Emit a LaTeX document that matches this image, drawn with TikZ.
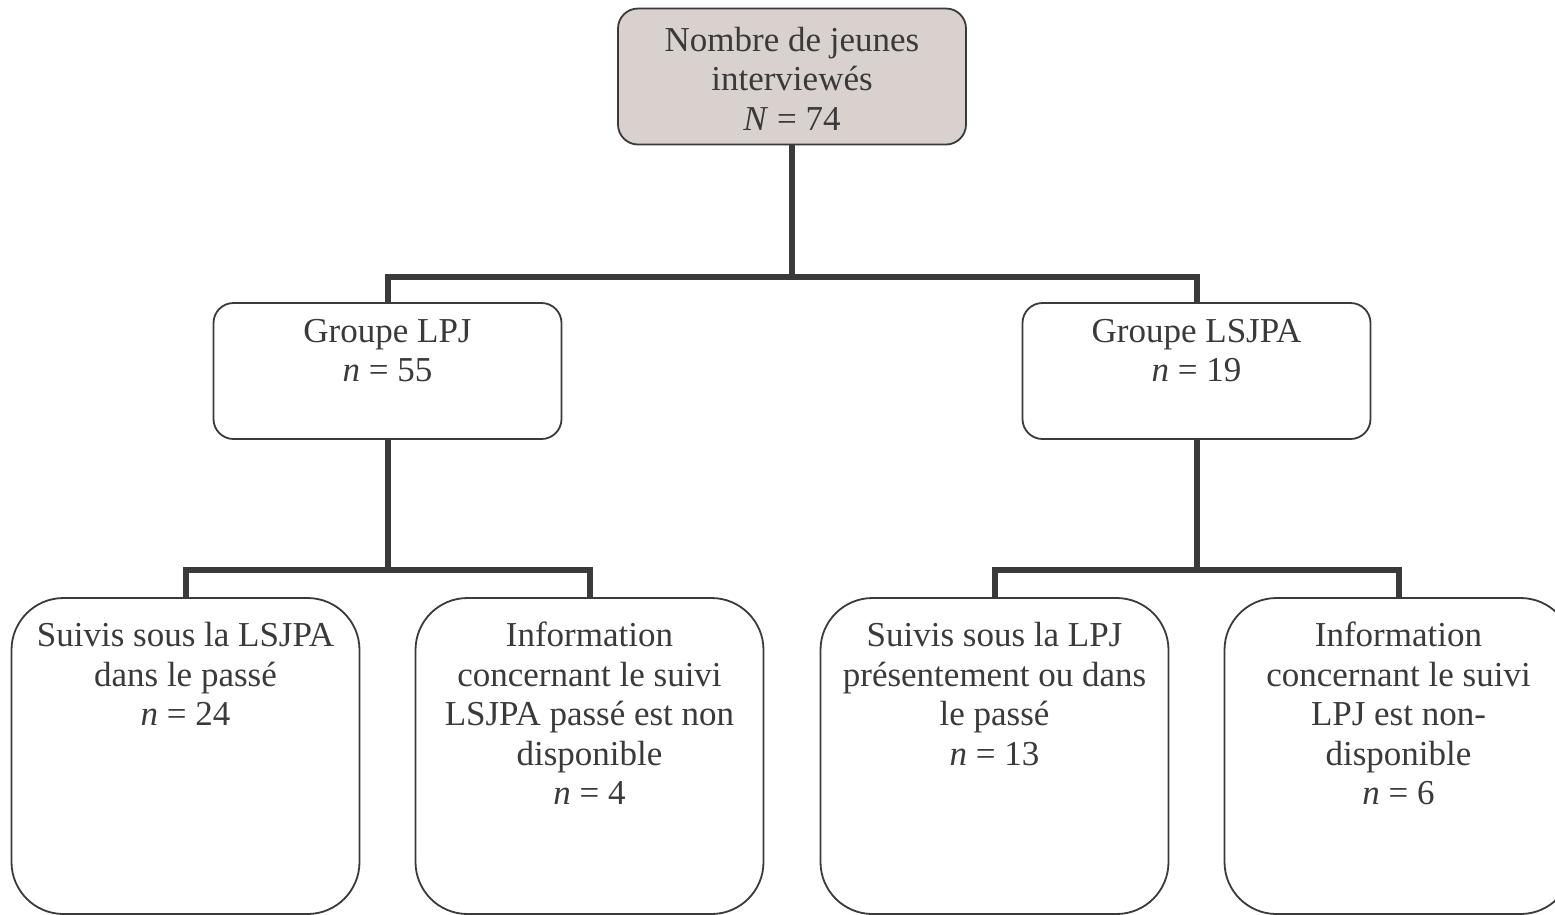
\documentclass[tikz,border=0pt]{standalone}
\usepackage{fontspec}
\setmainfont{Liberation Serif}
\definecolor{ink}{HTML}{3A3A3A}
\definecolor{topfill}{HTML}{D8D1CE}
\begin{document}
\begin{tikzpicture}[x=1pt,y=-1pt,
  box/.style={draw=ink, line width=1.8pt, fill=white, inner sep=0pt, minimum width=348pt},
  smallbox/.style={box, rounded corners=20pt, minimum height=136pt},
  bigbox/.style={box, rounded corners=52pt, minimum height=316pt},
  txt/.style={anchor=north, align=center, inner sep=0pt, text=ink, font=\fontsize{35}{39.5}\selectfont},
  conn/.style={draw=ink, line width=6pt}]
\useasboundingbox (0,0) rectangle (1555,914);
\clip (0,0) rectangle (1555,914);
% boxes
\node[smallbox, fill=topfill] (top) at (792,76.5) {};
\node[smallbox] (lpj) at (387.5,371) {};
\node[smallbox] (lsjpa) at (1196.5,371) {};
\node[bigbox] (b1) at (185.5,756) {};
\node[bigbox] (b2) at (589.5,756) {};
\node[bigbox] (b3) at (994.5,756) {};
\node[bigbox] (b4) at (1398.5,756) {};
% texts
\node[txt] (ttop) at ([yshift=-19pt]top.north) {Nombre de jeunes\\interviewés\\\textit{N} = 74};
\node[txt] (tlpj) at ([yshift=-17pt]lpj.north) {Groupe LPJ\\\textit{n} = 55};
\node[txt] (tlsjpa) at ([yshift=-17pt]lsjpa.north) {Groupe LSJPA\\\textit{n} = 19};
\node[txt] (tb1) at ([yshift=-25pt]b1.north) {Suivis sous la LSJPA\\dans le passé\\\textit{n} = 24};
\node[txt] (tb2) at ([yshift=-25pt]b2.north) {Information\\concernant le suivi\\LSJPA passé est non\\disponible\\\textit{n} = 4};
\node[txt] (tb3) at ([yshift=-25pt]b3.north) {Suivis sous la LPJ\\présentement ou dans\\le passé\\\textit{n} = 13};
\node[txt] (tb4) at ([yshift=-25pt]b4.north) {Information\\concernant le suivi\\LPJ est non-\\disponible\\\textit{n} = 6};
% junctions
\coordinate (j1) at (792,277);
\coordinate (j2) at (387.5,570);
\coordinate (j3) at (1196.5,570);
% connectors
\draw[conn] (top.south) -- (j1);
\draw[conn] (lpj.north) |- (j1) -| (lsjpa.north);
\draw[conn] (lpj.south) -- (j2);
\draw[conn] (b1.north) |- (j2) -| (b2.north);
\draw[conn] (lsjpa.south) -- (j3);
\draw[conn] (b3.north) |- (j3) -| (b4.north);
\end{tikzpicture}
\end{document}
